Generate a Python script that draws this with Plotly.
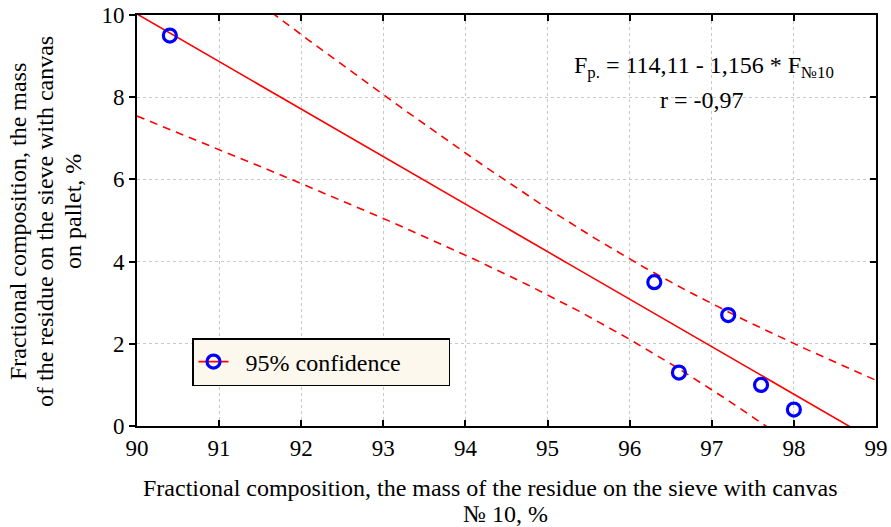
import numpy as np
import plotly.graph_objects as go

# Data
x_vals = [90.4, 96.3, 96.6, 97.2, 97.6, 98.0]
y_vals = [9.5, 3.5, 1.3, 2.7, 1.0, 0.4]
x_ticks = [90, 91, 92, 93, 94, 95, 96, 97, 98, 99]
y_ticks = [0, 2, 4, 6, 8, 10]
x_title_lines = ["Fractional composition, the mass of the residue on the sieve with canvas", "№ 10, %"]
y_title_lines = ["Fractional composition, the mass", "of the residue on the sieve with canvas", "on pallet, %"]

# Linear regression and 95% confidence band of the mean (derived from data)
x = np.array(x_vals)
y = np.array(y_vals)
n = len(x)
slope, intercept = np.polyfit(x, y, 1)
resid = y - (intercept + slope * x)
s = np.sqrt(np.sum(resid ** 2) / (n - 2))
sxx = np.sum((x - x.mean()) ** 2)
t_crit = 2.776  # t(0.975, df=4)
xf = np.linspace(90, 99, 200)
yf = intercept + slope * xf
hw = t_crit * s * np.sqrt(1 / n + (xf - x.mean()) ** 2 / sxx)

RED = "#ff0000"
BLUE = "#0000ff"
FONT = "Liberation Serif"
FS = 24
TFS = 23

W, H = 891, 527
ML, MR, MT, MB = 137, 15, 15, 101
PW, PH = W - ML - MR, H - MT - MB


def px_x(p):
    return (p - ML) / PW


def px_y(p):
    return (H - MB - p) / PH


fig = go.Figure()
fig.add_trace(go.Scatter(x=xf, y=yf, mode="lines", line=dict(color=RED, width=1.6),
                         showlegend=False, hoverinfo="skip"))
fig.add_trace(go.Scatter(x=xf, y=yf + hw, mode="lines",
                         line=dict(color=RED, width=1.6, dash="8px,6px"),
                         showlegend=False, hoverinfo="skip"))
fig.add_trace(go.Scatter(x=xf, y=yf - hw, mode="lines",
                         line=dict(color=RED, width=1.6, dash="8px,6px"),
                         showlegend=False, hoverinfo="skip"))
fig.add_trace(go.Scatter(x=x_vals, y=y_vals, mode="markers",
                         marker=dict(symbol="circle-open", size=13, color=BLUE,
                                     line=dict(width=3.2, color=BLUE)),
                         showlegend=False, cliponaxis=False))
# legend entry
fig.add_trace(go.Scatter(x=[None], y=[None], mode="lines+markers",
                         name="\u00a0\u00a095% confidence" + "\u00a0" * 7,
                         line=dict(color=RED, width=1.6),
                         marker=dict(symbol="circle-open", size=13, color=BLUE,
                                     line=dict(width=3.2, color=BLUE))))
fig.add_trace(go.Scatter(x=[None], y=[None], yaxis="y2", showlegend=False))

axis_common = dict(showline=True, linecolor="black", linewidth=2,
                   gridcolor="#c8c8c8", griddash="dot", gridwidth=1,
                   zeroline=False, ticklen=6, tickwidth=1.5, tickcolor="black",
                   automargin=False,
                   tickfont=dict(family=FONT, size=TFS, color="black"))

annotations = [
    dict(text="F<sub>p.</sub> = 114,11 - 1,156 * F<sub>№10</sub>",
         x=px_x(836), y=px_y(67), xref="paper", yref="paper", showarrow=False,
         xanchor="right", yanchor="middle", font=dict(family=FONT, size=FS)),
    dict(text="r = -0,97", x=px_x(702), y=px_y(100), xref="paper", yref="paper",
         showarrow=False, xanchor="center", yanchor="middle",
         font=dict(family=FONT, size=FS)),
]
for txt, cx, cy in zip(x_title_lines, [490, 505], [488, 514]):
    annotations.append(dict(text=txt, x=px_x(cx), y=px_y(cy), xref="paper", yref="paper",
                            showarrow=False, xanchor="center", yanchor="middle",
                            font=dict(family=FONT, size=FS)))
for txt, cx, cy in zip(y_title_lines, [18, 45, 73], [222, 222, 212]):
    annotations.append(dict(text=txt, x=px_x(cx), y=px_y(cy), xref="paper", yref="paper",
                            showarrow=False, xanchor="center", yanchor="middle", textangle=-90,
                            font=dict(family=FONT, size=FS)))

fig.update_layout(
    width=W, height=H,
    margin=dict(l=ML, r=MR, t=MT, b=MB),
    paper_bgcolor="white", plot_bgcolor="white",
    font=dict(family=FONT, size=FS, color="black"),
    xaxis=dict(range=[90, 99], tickvals=x_ticks, ticks="inside", mirror="ticks", **axis_common),
    yaxis=dict(range=[0, 10], tickvals=y_ticks, ticks="outside", mirror=True, **axis_common),
    yaxis2=dict(range=[0, 10], tickvals=y_ticks, ticks="inside", overlaying="y", side="right",
                showticklabels=False, showgrid=False, zeroline=False, ticklen=6,
                tickwidth=1.5, tickcolor="black", showline=False),
    legend=dict(x=px_x(192), y=px_y(338), xanchor="left", yanchor="top",
                bgcolor="#fdf8ee", bordercolor="black", borderwidth=1.5,
                font=dict(family=FONT, size=FS), itemwidth=30),
    annotations=annotations,
)

fig.write_html("out.html")
